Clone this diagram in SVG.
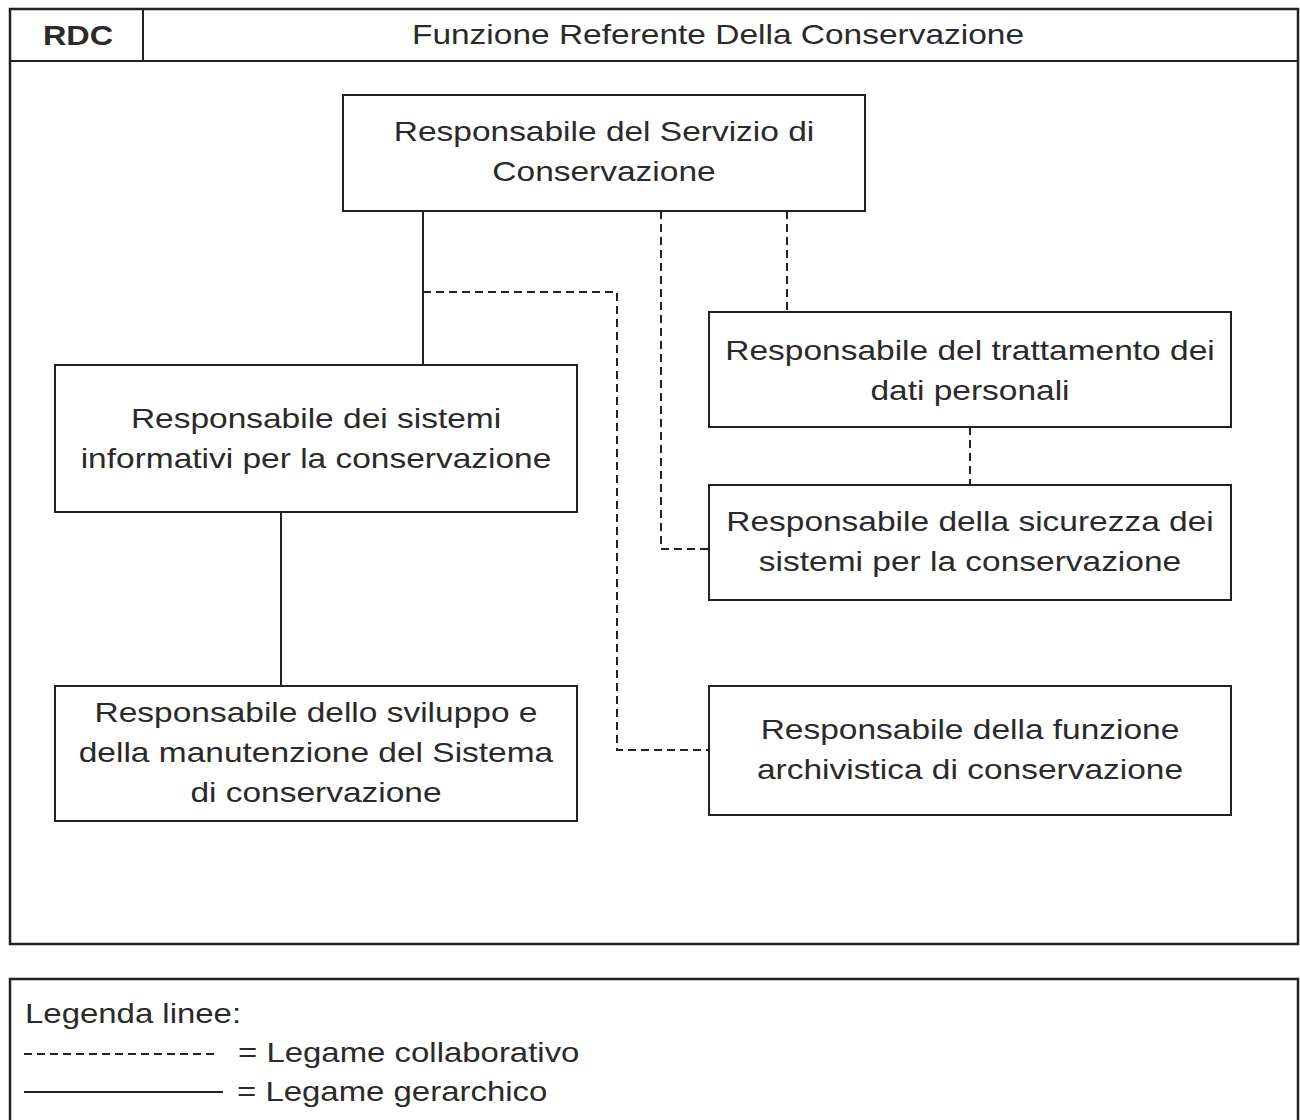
<svg xmlns="http://www.w3.org/2000/svg" width="1300" height="1120" viewBox="0 0 1300 1120">
<style>
text{font-family:"Liberation Sans",Arial,sans-serif;font-size:27px;fill:#2a2a2a;text-anchor:middle}
text.l{text-anchor:start}
.box{fill:#fff;stroke:#222;stroke-width:2}
.frame{fill:#fff;stroke:#222;stroke-width:2.5}
.solid{fill:none;stroke:#222;stroke-width:2}
.dash{fill:none;stroke:#222;stroke-width:2;stroke-dasharray:8,5}
</style>
<rect width="1300" height="1120" fill="#fff"/>
<g id="frame">
<rect class="frame" x="10" y="9" width="1288" height="935"/>
<line class="solid" x1="10" y1="61" x2="1298" y2="61" stroke-width="2.5"/>
<line class="solid" x1="143" y1="9" x2="143" y2="61"/>
<text transform="translate(78,45) scale(1.2,1)" font-weight="bold">RDC</text>
<text transform="translate(718,44) scale(1.24,1)">Funzione Referente Della Conservazione</text>
</g>
<g id="connectors">
<line class="solid" x1="423" y1="211" x2="423" y2="365"/>
<line class="solid" x1="281" y1="512" x2="281" y2="686"/>
<polyline class="dash" points="423,292 617,292 617,750 709,750"/>
<polyline class="dash" points="661,211 661,549 709,549"/>
<line class="dash" x1="787" y1="211" x2="787" y2="312"/>
<line class="dash" x1="970" y1="427" x2="970" y2="485"/>
</g>
<g id="n-servizio">
<rect class="box" x="343" y="95" width="522" height="116"/>
<text transform="translate(604,141) scale(1.24,1)">Responsabile del Servizio di</text>
<text transform="translate(604,181) scale(1.24,1)">Conservazione</text>
</g>
<g id="n-sistemi">
<rect class="box" x="55" y="365" width="522" height="147"/>
<text transform="translate(316,428) scale(1.24,1)">Responsabile dei sistemi</text>
<text transform="translate(316,468) scale(1.24,1)">informativi per la conservazione</text>
</g>
<g id="n-sviluppo">
<rect class="box" x="55" y="686" width="522" height="135"/>
<text transform="translate(316,722) scale(1.24,1)">Responsabile dello sviluppo e</text>
<text transform="translate(316,762) scale(1.24,1)">della manutenzione del Sistema</text>
<text transform="translate(316,802) scale(1.24,1)">di conservazione</text>
</g>
<g id="n-trattamento">
<rect class="box" x="709" y="312" width="522" height="115"/>
<text transform="translate(970,360) scale(1.24,1)">Responsabile del trattamento dei</text>
<text transform="translate(970,400) scale(1.24,1)">dati personali</text>
</g>
<g id="n-sicurezza">
<rect class="box" x="709" y="485" width="522" height="115"/>
<text transform="translate(970,531) scale(1.24,1)">Responsabile della sicurezza dei</text>
<text transform="translate(970,571) scale(1.24,1)">sistemi per la conservazione</text>
</g>
<g id="n-archivistica">
<rect class="box" x="709" y="686" width="522" height="129"/>
<text transform="translate(970,739) scale(1.24,1)">Responsabile della funzione</text>
<text transform="translate(970,779) scale(1.24,1)">archivistica di conservazione</text>
</g>
<g id="legend">
<rect class="frame" x="10" y="979" width="1288" height="160"/>
<text class="l" transform="translate(25,1023) scale(1.22,1)">Legenda linee:</text>
<line class="dash" x1="24" y1="1054" x2="214" y2="1054" stroke-dasharray="10,8"/>
<text class="l" transform="translate(238,1062) scale(1.22,1)">= Legame collaborativo</text>
<line class="solid" x1="24" y1="1092" x2="223" y2="1092"/>
<text class="l" transform="translate(237,1101) scale(1.22,1)">= Legame gerarchico</text>
</g>
</svg>
